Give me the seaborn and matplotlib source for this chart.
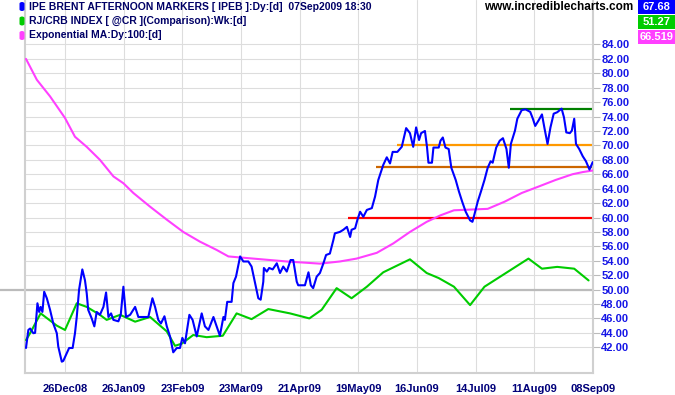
import matplotlib
matplotlib.use('Agg')
import matplotlib.pyplot as plt
import seaborn as sns
from matplotlib.patches import Rectangle, FancyBboxPatch

# ---------------- data (trading-day index: 0 = 26Dec08) ----------------
tick_days = [0, 20, 40, 60, 80, 100, 120, 140, 160, 180]
tick_labels = ['26Dec08', '26Jan09', '23Feb09', '23Mar09', '21Apr09',
               '19May09', '16Jun09', '14Jul09', '11Aug09', '08Sep09']
y_ticks = list(range(42, 85, 2))

brent_day = [-13.3, -12.5, -11.9, -10.8, -10.2, -9.4, -8.8, -8.3, -7.7, -7.1,
             -6.2, -5.1, -4.0, -2.8, -2.3, -1.1, -0.6, 0.6, 1.4, 2.6,
             3.4, 4.0, 4.8, 5.9, 6.8, 7.4, 7.9, 9.1, 10.0, 10.8,
             11.9, 13.1, 14.0, 14.8, 15.7, 16.5, 18.2, 19.0, 19.9, 20.8,
             22.2, 23.9, 25.0, 26.1, 28.4, 29.8, 30.7, 31.8, 32.7, 33.9,
             34.7, 35.8, 36.9, 38.1, 39.2, 40.0, 40.9, 42.4, 43.5, 44.9,
             46.6, 47.7, 48.9, 50.6, 51.7, 52.8, 54.0, 54.5, 55.3, 56.8,
             57.4, 58.3, 59.7, 60.8, 62.5, 63.6, 64.8, 65.9, 66.7, 67.6,
             67.8, 68.8, 69.6, 70.8, 72.2, 73.3, 74.4, 75.6, 76.9, 77.8,
             79.0, 79.5, 81.8, 83.0, 83.8, 84.6, 85.8, 86.9, 88.1, 89.0,
             90.3, 91.5, 92.0, 93.7, 94.9, 96.1, 97.2, 97.7, 98.9, 99.7,
             100.6, 101.7, 102.9, 104.6, 105.7, 106.8, 108.5, 109.7, 110.8, 111.7,
             113.3, 114.8, 116.3, 117.6, 118.7, 119.7, 120.7, 121.4, 122.7, 123.4,
             123.9, 125.1, 125.6, 127.4, 128.0, 128.8, 129.7, 130.8, 131.7, 133.2,
             134.3, 135.4, 136.6, 138.1, 138.9, 139.5, 140.7, 141.8, 143.0, 144.1,
             145.1, 145.8, 147.0, 148.2, 149.3, 150.5, 151.3, 152.0, 153.4, 154.2,
             155.7, 157.0, 158.6, 159.5, 160.3, 161.5, 162.6, 163.5, 164.5, 165.5,
             166.6, 167.8, 169.3, 170.1, 170.9, 172.1, 172.8, 173.6, 174.2, 175.3,
             176.5, 177.6, 178.8, 179.9]
brent_val = [41.9, 44.4, 44.6, 43.95, 44.0, 48.1, 46.9, 47.6, 46.9, 49.7,
             48.8, 47.2, 45.3, 43.95, 42.1, 40.0, 40.1, 41.2, 41.9, 41.9,
             43.95, 46.2, 50.0, 52.8, 51.3, 49.5, 47.2, 46.0, 44.9, 46.9,
             46.5, 47.6, 49.6, 46.2, 46.7, 45.8, 45.6, 46.5, 50.4, 46.2,
             46.5, 47.6, 46.2, 46.2, 46.2, 48.8, 47.6, 45.8, 45.3, 46.3,
             44.9, 43.5, 41.3, 41.9, 41.9, 43.3, 42.55, 46.5, 45.8, 43.5,
             46.7, 44.9, 44.4, 46.2, 44.9, 43.6, 46.2, 45.8, 48.3, 48.3,
             50.9, 51.8, 54.6, 53.9, 53.9, 53.2, 50.9, 48.8, 48.6, 51.1,
             53.0, 52.5, 53.0, 52.8, 53.65, 52.3, 53.2, 52.5, 54.1, 54.1,
             51.1, 50.6, 50.6, 52.4, 50.6, 50.2, 51.8, 52.3, 53.65, 54.8,
             55.0, 56.9, 57.8, 58.0, 58.3, 58.7, 57.3, 58.3, 58.5, 59.7,
             60.8, 60.1, 61.05, 61.3, 62.9, 65.2, 67.3, 68.35, 67.5, 69.1,
             69.1, 69.8, 72.4, 71.7, 69.8, 72.5, 70.75, 71.7, 72.0, 69.8,
             67.6, 67.6, 69.7, 69.7, 70.65, 71.1, 69.7, 69.5, 66.9, 65.2,
             63.6, 62.2, 60.8, 59.6, 59.4, 60.3, 62.2, 63.6, 65.2, 66.9,
             67.8, 67.6, 69.7, 70.65, 71.0, 69.5, 66.9, 70.2, 72.05, 73.7,
             74.9, 75.0, 74.65, 73.7, 72.7, 73.5, 74.3, 72.3, 70.2, 72.5,
             74.4, 74.6, 75.1, 73.9, 71.8, 71.7, 72.05, 73.7, 70.2, 69.5,
             68.5, 67.8, 66.65, 67.68]

ema_day = [-13.3, -9.6, -5.1, 0.0, 3.4, 7.4, 11.9, 16.5, 19.9, 23.3,
           29.0, 34.7, 40.3, 46.0, 51.7, 55.7, 64.2, 75.6, 86.9, 93.7,
           99.4, 106.3, 111.9, 117.6, 123.3, 128.0, 132.6, 144.1, 149.9, 155.7,
           161.5, 167.2, 173.0, 176.5, 179.9]
ema_val = [82.0, 79.1, 76.8, 73.8, 71.2, 69.8, 68.0, 65.7, 64.75, 63.4,
           61.5, 59.7, 58.0, 56.65, 55.5, 54.6, 54.3, 53.9, 53.6, 53.9,
           54.3, 55.1, 56.4, 58.0, 59.4, 60.3, 61.0, 61.2, 62.2, 63.4,
           64.3, 65.2, 66.0, 66.3, 66.52]

crb_day = [-13.3, -11.9, -8.3, -2.8, 0.0, 4.0, 7.4, 11.9, 14.2, 18.8,
           23.9, 29.0, 34.7, 37.5, 39.8, 43.7, 48.3, 53.8, 58.5, 63.6,
           69.3, 76.7, 83.3, 87.5, 92.6, 97.7, 102.9, 108.5, 117.6, 123.3,
           127.4, 132.6, 138.1, 143.0, 158.0, 162.6, 167.8, 173.6, 178.5]
crb_val = [43.0, 43.95, 46.7, 45.0, 44.4, 48.1, 47.6, 46.5, 45.8, 46.5,
           45.55, 46.2, 44.2, 42.2, 42.5, 43.7, 43.4, 43.6, 46.7, 45.9,
           47.3, 46.7, 46.0, 47.2, 50.2, 48.8, 50.4, 52.4, 54.2, 52.3,
           51.6, 50.4, 47.85, 50.4, 54.3, 52.9, 53.15, 52.9, 51.27]

level_val = [75.0, 70.0, 67.0, 60.0]
level_start = [151.6, 113.1, 105.9, 96.6]
level_color = ['#008000', '#FF9900', '#CC6600', '#FF0000']
comparison_base = 50.0

legend_labels = ['IPE BRENT AFTERNOON MARKERS [ IPEB ]:Dy:[d]  07Sep2009 18:30',
                 'RJ/CRB INDEX [ @CR ](Comparison):Wk:[d]',
                 'Exponential MA:Dy:100:[d]']
legend_colors = ['#0000FF', '#00CC00', '#FF40FF']
last_values = ['67.68', '51.27', '66.519']

# ---------------- figure ----------------
sns.set_style('white')
plt.rcParams['font.family'] = ['Liberation Sans', 'DejaVu Sans']

W, H = 675, 395
fig = plt.figure(figsize=(W / 100, H / 100), dpi=100)
ax = fig.add_axes([25 / W, 22.5 / H, 568 / W, 372.5 / H])

x_left, x_right = -13.64, 180.0
ax.set_xlim(x_left, x_right)
ax.set_ylim(38.5, 90.17)

# grid
for yv in y_ticks:
    ax.axhline(yv, color='#DDDDDD', lw=0.8, zorder=0)
for xv in tick_days:
    ax.axvline(xv, color='#DDDDDD', lw=0.8, zorder=0)

# comparison base line (extends left of frame)
ax.axhline(comparison_base, xmin=-25 / 568, xmax=1.0, color='#BBBBBB',
           lw=1.6, zorder=1, clip_on=False)

# support / resistance levels
for lv, ls, lc in zip(level_val, level_start, level_color):
    ax.plot([ls, x_right], [lv, lv], color=lc, lw=1.6, zorder=2,
            solid_capstyle='butt')

sns.lineplot(x=crb_day, y=crb_val, ax=ax, color='#00CC00', lw=1.5,
             zorder=3, estimator=None, sort=False)
sns.lineplot(x=ema_day, y=ema_val, ax=ax, color='#FF40FF', lw=1.5,
             zorder=3, estimator=None, sort=False)
sns.lineplot(x=brent_day, y=brent_val, ax=ax, color='#0000FF', lw=1.5,
             zorder=4, estimator=None, sort=False)

ax.set_xlabel('')
ax.set_ylabel('')

# axes styling
for s in ['left', 'bottom', 'right']:
    ax.spines[s].set_color('#D0D0D0')
    ax.spines[s].set_linewidth(1.5)
ax.spines['top'].set_visible(False)

ax.yaxis.tick_right()
ax.set_yticks(y_ticks)
ax.set_yticklabels([f'{v:.2f}' for v in y_ticks])
ax.tick_params(axis='y', length=5, width=0.8, color='#BBBBBB',
               labelcolor='#1515E6', labelsize=8, pad=1)
ax.set_xticks(tick_days)
ax.set_xticklabels(tick_labels)
ax.tick_params(axis='x', length=3, width=0.8, color='#CCCCCC',
               labelcolor='#00007A', labelsize=8, pad=5)
for lbl in ax.get_yticklabels() + ax.get_xticklabels():
    lbl.set_fontweight('bold')


def fy(px):
    return 1 - px / H


# legend
row_y = [6.5, 21.0, 35.5]
for lab, col, ry in zip(legend_labels, legend_colors, row_y):
    fig.patches.append(FancyBboxPatch((19.5 / W, fy(ry + 4.5)), 5 / W, 9 / H,
                                      boxstyle='round,pad=0,rounding_size=0.004',
                                      transform=fig.transFigure,
                                      facecolor=col, edgecolor='none'))
    fig.text(29 / W, fy(ry), lab, ha='left', va='center', fontsize=7.5,
             fontweight='bold', color='#000066')

# site name
fig.text(633 / W, fy(7.5), 'www.incrediblecharts.com', ha='right', va='center',
         fontsize=8.5, fontweight='bold', color='black')

# last-value boxes
box_tops = [0, 15, 30]
for val, col, bt in zip(last_values, legend_colors, box_tops):
    fig.patches.append(Rectangle((638 / W, fy(bt + 14)), 37 / W, 14 / H,
                                 transform=fig.transFigure, facecolor=col,
                                 edgecolor='none'))
    fig.text(656.5 / W, fy(bt + 7), val, ha='center', va='center', fontsize=8,
             fontweight='bold', color='white')

fig.savefig('out.png', dpi=100)
